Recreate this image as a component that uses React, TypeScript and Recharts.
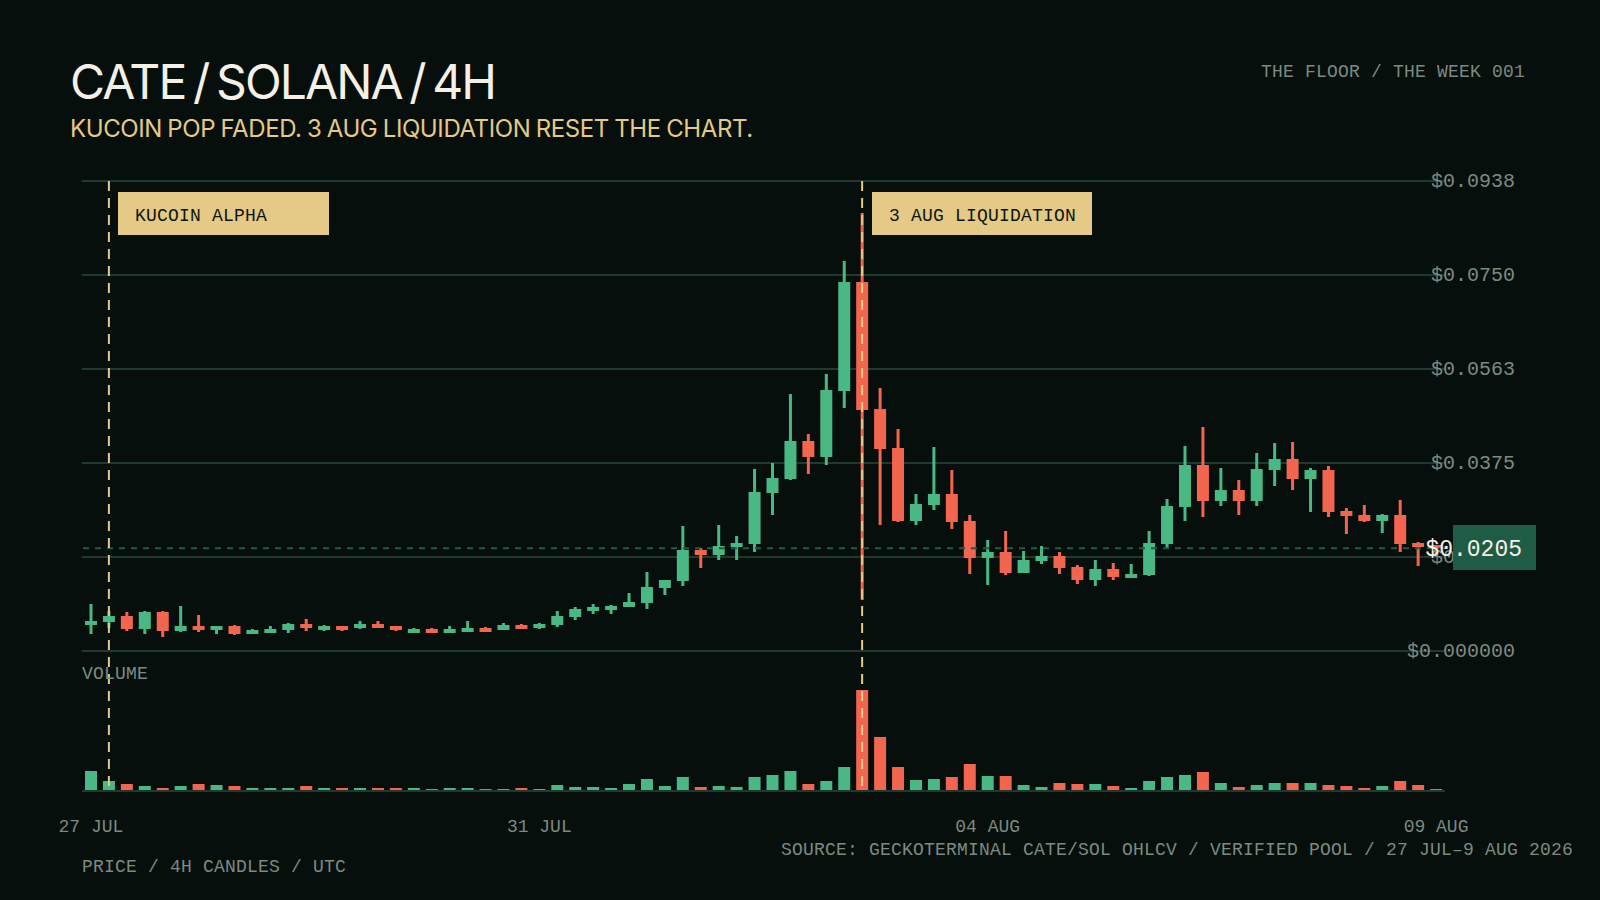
import React from 'react';
import { Bar, CartesianGrid, Cell, ComposedChart, ReferenceLine, XAxis, YAxis } from 'recharts';

// 4H candles, 27 Jul - 9 Aug
const opens = [
  0.00519, 0.00578, 0.00698, 0.00439, 0.00778, 0.00399, 0.00499, 0.00419, 0.00499, 0.00339,
  0.00359, 0.00419, 0.00539, 0.00419, 0.00499, 0.00459, 0.00539, 0.00499, 0.00359, 0.00439,
  0.00359, 0.00379, 0.00459, 0.00419, 0.00519, 0.00459, 0.00519, 0.00678, 0.00798, 0.00818,
  0.00878, 0.00957, 0.01257, 0.01396, 0.02015, 0.01915, 0.02074, 0.02134, 0.03152, 0.03431,
  0.04189, 0.03870, 0.05186, 0.07360, 0.04827, 0.04049, 0.02593, 0.02912, 0.03132, 0.02593,
  0.01855, 0.01975, 0.01556, 0.01795, 0.01895, 0.01676, 0.01416, 0.01636, 0.01456, 0.01516,
  0.02134, 0.02872, 0.03710, 0.02992, 0.03211, 0.02992, 0.03610, 0.03830, 0.03431, 0.03610,
  0.02793, 0.02713, 0.02593, 0.02713, 0.02154, 0.02114,
];
const highs = [
  0.00937, 0.00798, 0.00778, 0.00798, 0.00798, 0.00898, 0.00718, 0.00499, 0.00519, 0.00439,
  0.00499, 0.00559, 0.00638, 0.00519, 0.00499, 0.00598, 0.00598, 0.00499, 0.00459, 0.00459,
  0.00499, 0.00598, 0.00479, 0.00559, 0.00539, 0.00559, 0.00798, 0.00878, 0.00937, 0.00918,
  0.01157, 0.01576, 0.01416, 0.02493, 0.02055, 0.02513, 0.02294, 0.03630, 0.03750, 0.05126,
  0.04328, 0.05525, 0.07779, 0.08737, 0.05246, 0.04428, 0.03132, 0.04069, 0.03610, 0.02713,
  0.02214, 0.02394, 0.01995, 0.02094, 0.01975, 0.01715, 0.01815, 0.01755, 0.01735, 0.02394,
  0.03032, 0.04089, 0.04468, 0.03650, 0.03411, 0.03950, 0.04149, 0.04169, 0.03650, 0.03690,
  0.02852, 0.02912, 0.02733, 0.03012, 0.02174, 0.02114,
];
const lows = [
  0.00339, 0.00459, 0.00399, 0.00339, 0.00279, 0.00379, 0.00379, 0.00339, 0.00319, 0.00339,
  0.00359, 0.00359, 0.00399, 0.00399, 0.00399, 0.00439, 0.00459, 0.00399, 0.00359, 0.00359,
  0.00359, 0.00379, 0.00379, 0.00419, 0.00439, 0.00439, 0.00479, 0.00618, 0.00738, 0.00738,
  0.00878, 0.00838, 0.01117, 0.01297, 0.01656, 0.01815, 0.01815, 0.01975, 0.02713, 0.03411,
  0.03531, 0.03710, 0.04847, 0.01017, 0.02513, 0.02573, 0.02513, 0.02813, 0.02434, 0.01536,
  0.01317, 0.01516, 0.01556, 0.01735, 0.01536, 0.01336, 0.01297, 0.01416, 0.01456, 0.01496,
  0.02055, 0.02593, 0.02673, 0.02892, 0.02713, 0.02892, 0.03291, 0.03211, 0.02773, 0.02673,
  0.02334, 0.02573, 0.02354, 0.01975, 0.01695, 0.01915,
];
const closes = [
  0.00598, 0.00698, 0.00439, 0.00778, 0.00399, 0.00499, 0.00419, 0.00499, 0.00339, 0.00419,
  0.00439, 0.00539, 0.00459, 0.00499, 0.00419, 0.00539, 0.00459, 0.00419, 0.00439, 0.00359,
  0.00439, 0.00459, 0.00379, 0.00519, 0.00439, 0.00539, 0.00698, 0.00838, 0.00878, 0.00898,
  0.00977, 0.01277, 0.01416, 0.02015, 0.01915, 0.02094, 0.02154, 0.03172, 0.03451, 0.04189,
  0.03870, 0.05206, 0.07360, 0.04807, 0.04029, 0.02593, 0.02932, 0.03132, 0.02573, 0.01855,
  0.01975, 0.01556, 0.01815, 0.01895, 0.01656, 0.01416, 0.01636, 0.01476, 0.01536, 0.02154,
  0.02892, 0.03710, 0.02992, 0.03211, 0.02992, 0.03630, 0.03830, 0.03431, 0.03610, 0.02773,
  0.02693, 0.02593, 0.02713, 0.02134, 0.02074, 0.02050,
];
const volumes = [
  19, 9, 6, 4, 2, 4, 6, 5, 4, 2, 2, 2, 4, 2, 2, 2, 2, 2, 2, 1,
  2, 2, 1, 1, 2, 1, 5, 3, 3, 2, 6, 11, 4, 13, 3, 4, 3, 13, 15, 19,
  6, 9, 23, 100, 53, 23, 10, 11, 13, 26, 14, 14, 5, 3, 7, 6, 6, 4, 2, 9,
  13, 15, 18, 7, 3, 5, 7, 7, 7, 5, 4, 2, 4, 9, 5, 1,
];

const xTickSlots = [0, 25, 50, 75];
const xTickLabels = ['27 JUL', '31 JUL', '04 AUG', '09 AUG'];
const priceTicks = [0, 0.01875, 0.0375, 0.05625, 0.075, 0.09375];
const priceTickLabels = ['$0.000000', '$0.0188', '$0.0375', '$0.0563', '$0.0750', '$0.0938'];
const lastPrice = 0.0205;
const lastPriceLabel = '$0.0205';
const eventSlots = [1, 43];

const rows = opens.map((open, slot) => ({
  slot,
  open,
  high: highs[slot],
  low: lows[slot],
  close: closes[slot],
  range: [lows[slot], highs[slot]],
  volume: volumes[slot],
}));

const BG = '#060f0b';
const GREEN = '#4ab884';
const RED = '#f2654e';
const GOLD = '#e5c986';
const GRID = '#20392e';
const MUTED = '#7c8a82';
const CREAM = '#f5f0e6';
const MONO = '"Liberation Mono", monospace';
const SANS = 'Inter, sans-serif';

function Candle(props: any) {
  const { x, y, width, height, payload } = props;
  const { open, high, low, close } = payload;
  const k = height / (high - low);
  const top = y + (high - Math.max(open, close)) * k;
  const bottom = y + (high - Math.min(open, close)) * k;
  const fill = close >= open ? GREEN : RED;
  return (
    <g>
      <rect x={x + width / 2 - 1.5} y={y} width={3} height={height} fill={fill} />
      <rect x={x} y={top} width={width} height={Math.max(bottom - top, 1)} fill={fill} />
    </g>
  );
}

function PriceTick({ y, payload }: any) {
  return (
    <text x={1515} y={y} dy={6} textAnchor="end" fill={MUTED} fontSize={20} fontFamily={MONO}>
      {priceTickLabels[priceTicks.indexOf(payload.value)]}
    </text>
  );
}

function Txt({ left, right, top, size, color, family, spacing, words, children }: any) {
  return (
    <div
      style={{
        position: 'absolute',
        left,
        right,
        top,
        fontSize: size,
        lineHeight: `${size}px`,
        color,
        fontFamily: family,
        letterSpacing: spacing,
        wordSpacing: words,
        whiteSpace: 'nowrap',
      }}
    >
      {children}
    </div>
  );
}

function Tag({ left, width, children }: any) {
  return (
    <div
      style={{
        position: 'absolute',
        left,
        top: 192,
        width,
        height: 43,
        background: GOLD,
        color: '#0c1710',
        fontFamily: MONO,
        fontSize: 18,
        letterSpacing: 0.2,
        lineHeight: '48px',
        paddingLeft: 17,
        boxSizing: 'border-box',
        whiteSpace: 'nowrap',
      }}
    >
      {children}
    </div>
  );
}

export default function App() {
  return (
    <div style={{ position: 'absolute', left: 0, top: 0, width: 1600, height: 900, background: BG, overflow: 'hidden' }}>
      <ComposedChart
        width={1600}
        height={900}
        data={rows}
        margin={{ top: 181, right: 95, bottom: 79, left: 82 }}
      >
        <XAxis
          xAxisId="x"
          dataKey="slot"
          type="category"
          ticks={xTickSlots}
          interval={0}
          height={30}
          tickLine={false}
          axisLine={{ stroke: GRID, strokeWidth: 2 }}
          tick={{ fill: MUTED, fontSize: 18, fontFamily: MONO, dy: 20 }}
          tickFormatter={(v: number) => xTickLabels[xTickSlots.indexOf(v)]}
        />
        <XAxis xAxisId="vol" dataKey="slot" type="category" hide height={0} />
        <YAxis
          yAxisId="price"
          orientation="right"
          width={60}
          domain={[-0.027925, 0.09375]}
          ticks={priceTicks}
          interval={0}
          axisLine={false}
          tickLine={false}
          tick={<PriceTick />}
        />
        <YAxis yAxisId="vol" hide domain={[-1, 609]} />
        <CartesianGrid
          xAxisId="x"
          yAxisId="price"
          vertical={false}
          horizontal={{ stroke: GRID, strokeWidth: 2 }}
          stroke={GRID}
          strokeWidth={2}
          syncWithTicks
        />
        <Bar
          xAxisId="x"
          yAxisId="price"
          dataKey="range"
          barSize={12}
          shape={<Candle />}
          isAnimationActive={false}
        />
        <Bar xAxisId="vol" yAxisId="vol" dataKey="volume" barSize={12} isAnimationActive={false}>
          {rows.map((r) => (
            <Cell key={r.slot} fill={r.close >= r.open ? GREEN : RED} />
          ))}
        </Bar>
        <ReferenceLine
          xAxisId="x"
          yAxisId="price"
          y={lastPrice}
          stroke="#1f5c46"
          strokeWidth={2}
          strokeDasharray="6 6"
        />
        {eventSlots.map((slot) => (
          <ReferenceLine
            key={slot}
            xAxisId="x"
            yAxisId="price"
            x={slot}
            stroke={GOLD}
            strokeWidth={2}
            strokeDasharray="0 5 10 2"
          />
        ))}
      </ComposedChart>

      <Txt left={70} top={58} size={48} color={CREAM} family={SANS} spacing={-1.9} words={-4}>CATE / SOLANA / 4H</Txt>
      <Txt left={70} top={117} size={24} color={GOLD} family={SANS} spacing={-0.4} words={-1}>KUCOIN POP FADED. 3 AUG LIQUIDATION RESET THE CHART.</Txt>
      <Txt right={75} top={63} size={18} color={MUTED} family={MONO} spacing={0.2}>THE FLOOR / THE WEEK 001</Txt>
      <Txt left={82} top={665} size={18} color={MUTED} family={MONO} spacing={0.2}>VOLUME</Txt>
      <Txt left={82} top={858} size={18} color={MUTED} family={MONO} spacing={0.2}>PRICE / 4H CANDLES / UTC</Txt>
      <Txt left={781} top={841} size={18} color={MUTED} family={MONO} spacing={0.2}>SOURCE: GECKOTERMINAL CATE/SOL OHLCV / VERIFIED POOL / 27 JUL–9 AUG 2026</Txt>

      <Tag left={118} width={211}>KUCOIN ALPHA</Tag>
      <Tag left={872} width={220}>3 AUG LIQUIDATION</Tag>

      <div style={{ position: 'absolute', left: 1453, top: 525, width: 83, height: 45, background: '#1f5c46' }} />
      <Txt right={78} top={539} size={23} color={CREAM} family={MONO}>{lastPriceLabel}</Txt>
    </div>
  );
}
